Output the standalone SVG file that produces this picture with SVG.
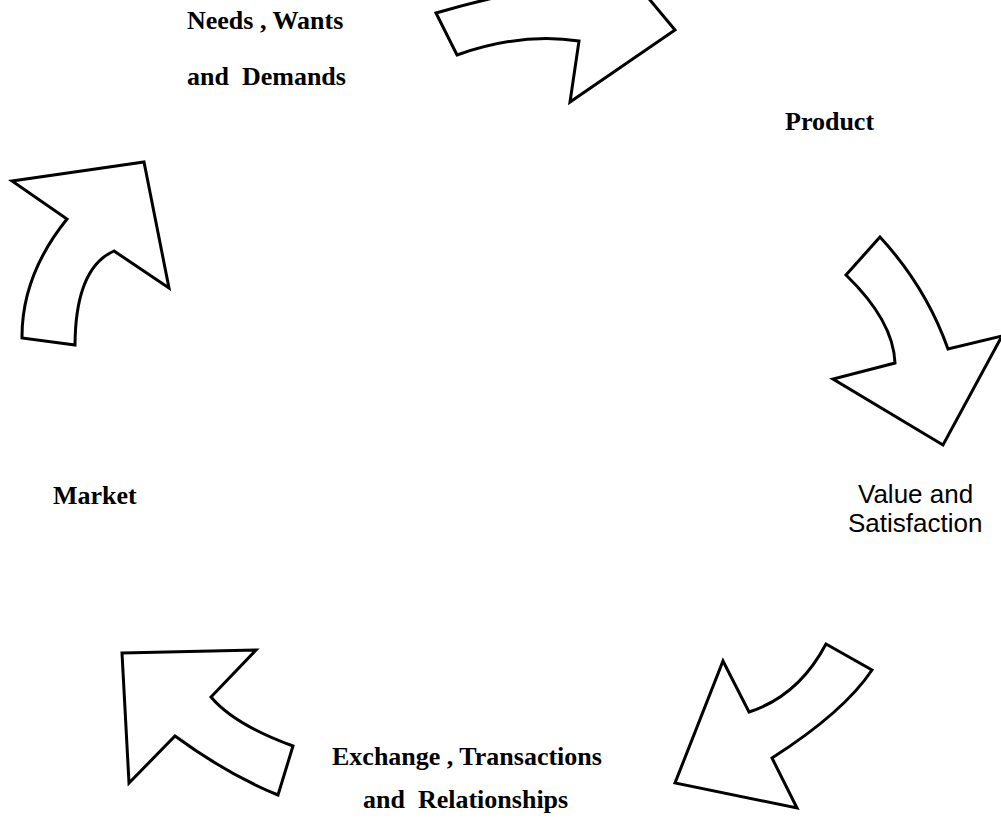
<svg xmlns="http://www.w3.org/2000/svg" width="1001" height="826" viewBox="0 0 1001 826">
<style>
.arrow{fill:#fff;stroke:#000;stroke-width:3;stroke-linejoin:miter}
.lb{font-family:"Liberation Serif","Times New Roman",serif;font-weight:bold;font-size:26px;fill:#000;white-space:pre}
.ls{font-family:"Liberation Sans",Arial,sans-serif;font-size:26px;fill:#000}
</style>
<rect width="1001" height="826" fill="#fff"/>
<g id="connectors">
<path id="arrow-top" class="arrow" d="M436,13 L457,55 Q522,32 579,41 L570,102 L675,30 L625,-30 L590,-18 Q522,-12 436,13 Z"/>
<path id="arrow-right" class="arrow" d="M846,275 L880,237 Q926,287 948,349 L1002,336 L943,445 L833,379 L895,363 Q893.5,321 846,275 Z"/>
<path id="arrow-bottom-right" class="arrow" d="M826,644 L872,670 Q844,712 772,758 L797,808 L675,783 L723,661 L749,712 Q798.5,696 826,644 Z"/>
<path id="arrow-bottom-left" class="arrow" d="M122,653 L256,650 L211,697 Q234,724.5 293,746 L278,795 Q227.5,774.5 175,736 L129,783 Z"/>
<path id="arrow-left" class="arrow" d="M12,181 L144,162 L169,288 L114,251 Q75.5,268 75,345 L22,338 Q21.5,275.5 67,219 Z"/>
</g>
<g id="node-needs">
<text class="lb" x="187" y="29">Needs , Wants</text>
<text class="lb" x="187" y="85">and  Demands</text>
</g>
<g id="node-product">
<text class="lb" x="785" y="130">Product</text>
</g>
<g id="node-value">
<text class="ls" x="858" y="503">Value and</text>
<text class="ls" x="848" y="532">Satisfaction</text>
</g>
<g id="node-exchange">
<text class="lb" x="332" y="765">Exchange , Transactions</text>
<text class="lb" x="363" y="808">and  Relationships</text>
</g>
<g id="node-market">
<text class="lb" x="53" y="504">Market</text>
</g>
</svg>
